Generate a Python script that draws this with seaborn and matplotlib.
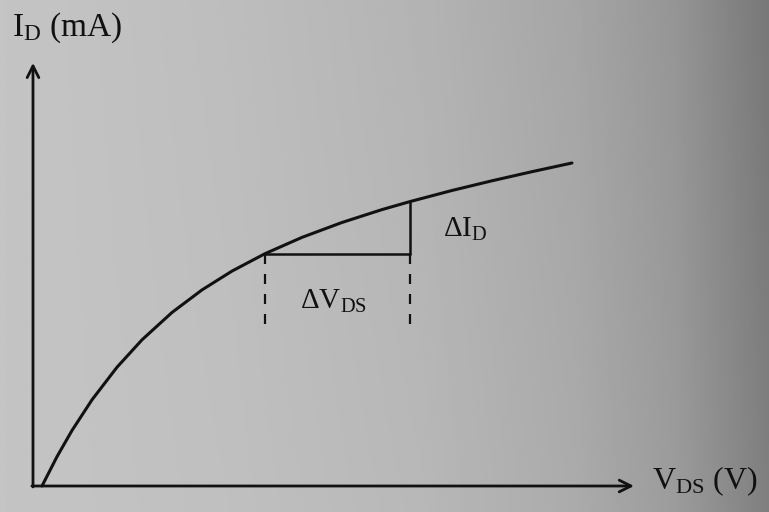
import numpy as np
import matplotlib
matplotlib.use("Agg")
import matplotlib.pyplot as plt
import seaborn as sns

# Drain characteristic I_D versus V_DS (arbitrary units)
v_ds = [0.167, 0.444, 0.722, 1.093, 1.556, 2.019, 2.574, 3.130, 3.685,
        4.296, 4.981, 5.722, 6.463, 6.981, 7.759, 8.500, 9.241, 9.981]
i_d = [0.000, 0.907, 1.718, 2.669, 3.678, 4.526, 5.372, 6.071, 6.653,
       7.192, 7.697, 8.158, 8.557, 8.805, 9.149, 9.449, 9.731, 10.000]

# Increment triangle used to read the output resistance
dv_start, dv_end = 4.296, 6.981
id_low, id_high = 7.192, 8.805
guide_bottom = 5.0

# Axis extents (arrow tips)
x_axis_end = 11.13
y_axis_end = 13.1

sns.set_theme(style="white")
plt.rcParams["font.family"] = ["Liberation Serif", "DejaVu Serif"]
plt.rcParams["mathtext.fontset"] = "custom"
plt.rcParams["mathtext.rm"] = "Liberation Serif"
plt.rcParams["mathtext.it"] = "Liberation Serif:italic"

fig = plt.figure(figsize=(7.69, 5.12), dpi=100)

# Paper shading: light on the left, darker towards the right edge
bg = fig.add_axes([0, 0, 1, 1], zorder=0)
xs = np.linspace(0, 1, 400)
shade = np.interp(xs, [0.0, 0.3, 0.55, 0.75, 0.88, 1.0],
                  [0.77, 0.75, 0.72, 0.67, 0.61, 0.50])
ys = np.linspace(0, 1, 200)
vshade = np.interp(ys, [0.0, 1.0], [0.0, -0.03])
grid = np.clip(shade[None, :] + vshade[:, None] * xs[None, :], 0, 1)
bg.imshow(grid, cmap="gray", vmin=0, vmax=1, aspect="auto",
          extent=[0, 1, 0, 1], origin="lower")
bg.set_axis_off()

ax = fig.add_axes([0, 0, 1, 1], zorder=1)
ax.patch.set_alpha(0)
ax.set_xlim(-0.611, 13.63)
ax.set_ylim(-0.805, 15.046)
ax.set_axis_off()

ink = "#111111"

# Axes with open arrowheads
ax.annotate("", xy=(0, y_axis_end), xytext=(0, -0.03),
            arrowprops=dict(arrowstyle="->,head_length=0.7,head_width=0.35",
                            lw=2.0, color=ink, shrinkA=0, shrinkB=0))
ax.annotate("", xy=(x_axis_end, 0), xytext=(-0.02, 0),
            arrowprops=dict(arrowstyle="->,head_length=0.7,head_width=0.35",
                            lw=2.0, color=ink, shrinkA=0, shrinkB=0))

# Characteristic curve
sns.lineplot(x=v_ds, y=i_d, ax=ax, color=ink, lw=2.2, sort=False,
             estimator=None)

# Increment triangle
ax.plot([dv_start, dv_end], [id_low, id_low], color=ink, lw=1.8)
ax.plot([dv_end, dv_end], [id_low, id_high], color=ink, lw=1.8)
for xv in (dv_start, dv_end):
    ax.plot([xv, xv], [id_low, guide_bottom], color=ink, lw=1.6,
            linestyle=(0, (4.5, 4.5)))

# Labels
ax.text(-0.39, 14.18, r"$\mathrm{I_D}$ (mA)", fontsize=24, color=ink,
        va="center", ha="left")
ax.text(11.46, 0.15, r"$\mathrm{V_{DS}}$ (V)", fontsize=23, color=ink,
        va="center", ha="left")
ax.text(7.6, 7.95, r"$\mathrm{\Delta I_D}$", fontsize=21, color=ink,
        va="center", ha="left")
ax.text(4.95, 5.7, r"$\mathrm{\Delta V_{DS}}$", fontsize=21, color=ink,
        va="center", ha="left")

fig.savefig("out.png", dpi=100)
